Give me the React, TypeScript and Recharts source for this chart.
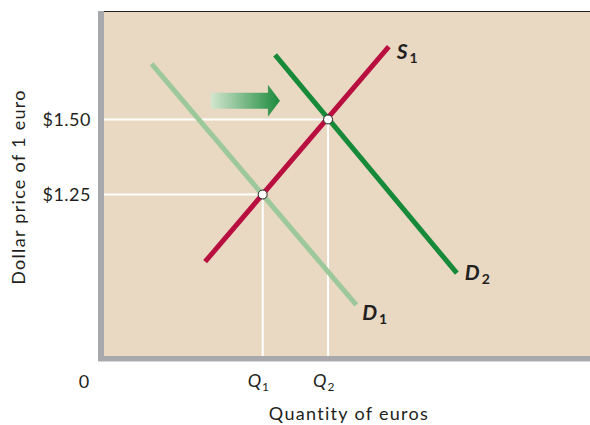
import React from 'react';
import {
  ComposedChart,
  Line,
  Scatter,
  XAxis,
  YAxis,
  ReferenceLine,
  ReferenceDot,
} from 'recharts';

// curves (quantity index, dollar price)
const D1_Q = [9.8, 51.9];
const D1_P = [1.685, 0.882];
const S1_Q = [20.8, 58.6];
const S1_P = [1.026, 1.743];
const D2_Q = [35.2, 72.6];
const D2_P = [1.715, 0.988];

const Q1 = 32.65;
const Q2 = 46.1;
const PRICES = [1.25, 1.5];
const PRICE_LABELS = ['$1.25', '$1.50'];
const Q_TICKS = [0, Q1, Q2];
const Q_LABELS = ['0', 'Q', 'Q'];
const Q_SUBS = ['', '1', '2'];

const X_DOMAIN: [number, number] = [0, 100];
const Y_DOMAIN: [number, number] = [0.712, 1.858];

const FONT = 'Lato, "Open Sans", sans-serif';
const INK = '#231f20';
const TAN = '#e9d8c2';
const GRAY = '#a7a9ac';

const toRows = (qs: number[], ps: number[]) => qs.map((q, i) => ({ q, p: ps[i] }));

const d1 = toRows(D1_Q, D1_P);
const s1 = toRows(S1_Q, S1_P);
const d2 = toRows(D2_Q, D2_P);
const equilibria = [
  { q: Q1, p: PRICES[0] },
  { q: Q2, p: PRICES[1] },
];

const curveLabel = (name: string, sub: string, dx: number, dy: number, last: number) =>
  (props: any) => {
    if (props.index !== last) return null;
    return (
      <text
        x={props.x + dx}
        y={props.y + dy}
        fill={INK}
        fontFamily={FONT}
        fontWeight={700}
        fontStyle="italic"
        fontSize={21}
      >
        {name}
        <tspan fontSize={14} dx={2} dy={4} fontStyle="normal">
          {sub}
        </tspan>
      </text>
    );
  };

const QTick = (props: any) => {
  const { x, index } = props;
  if (index === 0) {
    return (
      <text x={x - 20} y={388} textAnchor="middle" fill={INK} fontFamily={FONT} fontSize={18}>
        {Q_LABELS[0]}
      </text>
    );
  }
  return (
    <text x={x - 15} y={387} fill={INK} fontFamily={FONT} fontSize={18}>
      <tspan fontStyle="italic">{Q_LABELS[index]}</tspan>
      <tspan fontSize={12} dx={1} dy={4}>
        {Q_SUBS[index]}
      </tspan>
    </text>
  );
};

const Arrow = (props: any) => {
  const { cx, cy } = props;
  return (
    <g>
      <defs>
        <linearGradient id="shiftGrad" x1="0" y1="0" x2="1" y2="0">
          <stop offset="0%" stopColor="#d3e6cf" />
          <stop offset="100%" stopColor="#1b8a3b" />
        </linearGradient>
      </defs>
      <path
        d={`M${cx - 34},${cy - 8} L${cx + 23},${cy - 8} L${cx + 23},${cy - 16} L${cx + 35},${cy} L${cx + 23},${cy + 16} L${cx + 23},${cy + 8} L${cx - 34},${cy + 8} Z`}
        fill="url(#shiftGrad)"
      />
    </g>
  );
};

export default function App() {
  return (
    <div style={{ position: 'absolute', left: 0, top: 0, width: 590, height: 425, background: '#fff' }}>
      {/* axis frame */}
      <div style={{ position: 'absolute', left: 98, top: 11, width: 6, height: 350, background: GRAY }} />
      <div style={{ position: 'absolute', left: 98, top: 356, width: 492, height: 5, background: GRAY }} />
      <div style={{ position: 'absolute', left: 98, top: 361, width: 492, height: 1, background: '#d6d7d9' }} />
      <div style={{ position: 'absolute', left: 104, top: 11, width: 486, height: 1, background: INK }} />
      <div style={{ position: 'absolute', left: 104, top: 12, width: 486, height: 344, background: TAN }} />
      <div style={{ position: 'absolute', left: 0, top: 0 }}>
        <ComposedChart width={590} height={425} margin={{ top: 12, right: 0, bottom: 0, left: 0 }}>
          <XAxis
            type="number"
            dataKey="q"
            domain={X_DOMAIN}
            allowDataOverflow
            ticks={Q_TICKS}
            tick={<QTick />}
            tickLine={false}
            axisLine={false}
            height={69}
            label={{
              content: ({ viewBox }: any) => (
                <text
                  x={viewBox.x + 245}
                  y={viewBox.y + 64}
                  textAnchor="middle"
                  fill={INK}
                  fontFamily={FONT}
                  fontSize={18}
                  letterSpacing={1.3}
                >
                  Quantity of euros
                </text>
              ),
            }}
          />
          <YAxis
            type="number"
            dataKey="p"
            domain={Y_DOMAIN}
            allowDataOverflow
            ticks={PRICES}
            tickFormatter={(v: number) => PRICE_LABELS[PRICES.indexOf(v)]}
            tickLine={false}
            axisLine={false}
            tickMargin={7}
            width={104}
            tick={{ fill: INK, fontFamily: FONT, fontSize: 18, letterSpacing: 0.5 }}
            label={{
              content: ({ viewBox }: any) => {
                const cx = 18;
                const cy = viewBox.y + viewBox.height / 2 + 3;
                return (
                  <text
                    x={cx}
                    y={cy}
                    transform={`rotate(-90 ${cx} ${cy})`}
                    textAnchor="middle"
                    dominantBaseline="central"
                    fill={INK}
                    fontFamily={FONT}
                    fontSize={18}
                    letterSpacing={1.3}
                  >
                    Dollar price of 1 euro
                  </text>
                );
              },
            }}
          />
          <ReferenceLine
            segment={[{ x: 0, y: PRICES[0] }, { x: Q1, y: PRICES[0] }]}
            stroke="#fff"
            strokeWidth={2}
          />
          <ReferenceLine
            segment={[{ x: 0, y: PRICES[1] }, { x: Q2, y: PRICES[1] }]}
            stroke="#fff"
            strokeWidth={2}
          />
          <ReferenceLine
            segment={[{ x: Q1, y: Y_DOMAIN[0] }, { x: Q1, y: PRICES[0] }]}
            stroke="#fff"
            strokeWidth={2}
          />
          <ReferenceLine
            segment={[{ x: Q2, y: Y_DOMAIN[0] }, { x: Q2, y: PRICES[1] }]}
            stroke="#fff"
            strokeWidth={2}
          />
          <ReferenceDot x={29} y={1.562} r={0} shape={<Arrow />} />
          <Line
            data={d1}
            dataKey="p"
            type="linear"
            stroke="#9cc89c"
            strokeWidth={5}
            dot={false}
            isAnimationActive={false}
            label={curveLabel('D', '1', 6, 15, d1.length - 1)}
          />
          <Line
            data={s1}
            dataKey="p"
            type="linear"
            stroke="#b80f40"
            strokeWidth={5}
            dot={false}
            isAnimationActive={false}
            label={curveLabel('S', '1', 8, 12, s1.length - 1)}
          />
          <Line
            data={d2}
            dataKey="p"
            type="linear"
            stroke="#178a3a"
            strokeWidth={5}
            dot={false}
            isAnimationActive={false}
            label={curveLabel('D', '2', 8, 7, d2.length - 1)}
          />
          <Scatter
            data={equilibria}
            dataKey="p"
            fill="#fff"
            stroke={INK}
            strokeWidth={1}
            isAnimationActive={false}
            shape={(p: any) => (
              <circle cx={p.cx} cy={p.cy} r={4.5} fill="#fff" stroke={INK} strokeWidth={1} />
            )}
          />
        </ComposedChart>
      </div>
    </div>
  );
}
